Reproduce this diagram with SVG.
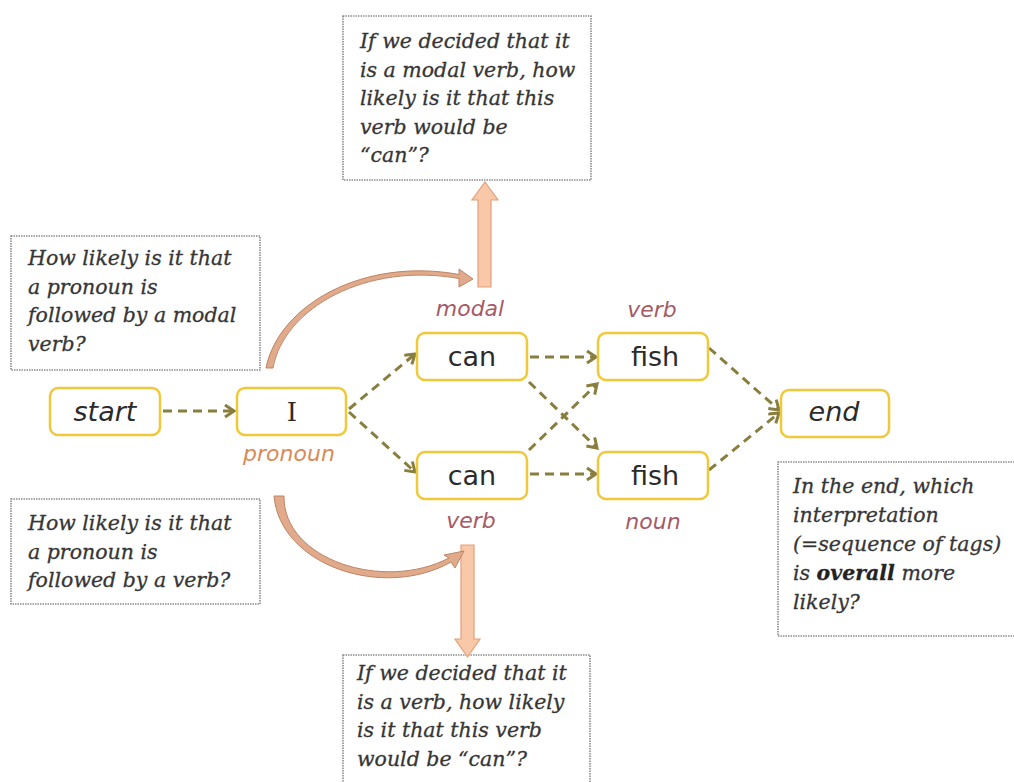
<svg xmlns="http://www.w3.org/2000/svg" width="1014" height="782" viewBox="0 0 1014 782">
  <style>
    .node rect { fill: #ffffff; stroke: #f0c93a; stroke-width: 2.5; }
    .word { font-family: "DejaVu Sans", Verdana, sans-serif; font-size: 27px; fill: #2b2b2b; text-anchor: middle; }
    .ital { font-style: italic; }
    .tag { font-family: "DejaVu Sans", Verdana, sans-serif; font-size: 22px; font-style: italic; text-anchor: middle; }
    .tag-r { fill: #a65a66; }
    .tag-o { fill: #d98a58; }
    .note rect { fill: #ffffff; stroke: #8c8c8c; stroke-width: 1.6; stroke-dasharray: 1.5 1; }
    .note text { font-family: "DejaVu Serif", Cambria, serif; font-style: italic; font-size: 20.5px; fill: #363636; stroke: #363636; stroke-width: 0.3; }
    .edge { fill: none; stroke: #8a7e3e; stroke-width: 3; stroke-dasharray: 9 6; }
    .block { fill: #f8c8a8; stroke: #e2a07c; stroke-width: 1.2; }
    .curve { fill: #e0aa8b; stroke: #bd8566; stroke-width: 1; }
  </style>
  <defs>
    <marker id="chev" markerUnits="userSpaceOnUse" markerWidth="14" markerHeight="16" refX="11" refY="7" orient="auto">
      <path d="M2,1 L11,7 L2,13" fill="none" stroke="#8a7e3e" stroke-width="3" stroke-dasharray="none"/>
    </marker>
  </defs>

  <!-- question boxes -->
  <g id="note-modal-emission" class="note">
    <rect x="343" y="16" width="248" height="164"/>
    <text x="360" y="48">If we decided that it</text>
    <text x="360" y="76.5">is a modal verb, how</text>
    <text x="360" y="105">likely is it that this</text>
    <text x="360" y="133.5">verb would be</text>
    <text x="360" y="162">“can”?</text>
  </g>
  <g id="note-modal-transition" class="note">
    <rect x="11" y="236" width="249" height="134"/>
    <text x="28" y="265">How likely is it that</text>
    <text x="28" y="293.5">a pronoun is</text>
    <text x="28" y="322">followed by a modal</text>
    <text x="28" y="350.5">verb?</text>
  </g>
  <g id="note-verb-transition" class="note">
    <rect x="11" y="499" width="249" height="105"/>
    <text x="28" y="530">How likely is it that</text>
    <text x="28" y="558.5">a pronoun is</text>
    <text x="28" y="587">followed by a verb?</text>
  </g>
  <g id="note-verb-emission" class="note">
    <rect x="343" y="655" width="247" height="140"/>
    <text x="357" y="680">If we decided that it</text>
    <text x="357" y="708.5">is a verb, how likely</text>
    <text x="357" y="737">is it that this verb</text>
    <text x="357" y="765.5">would be “can”?</text>
  </g>
  <g id="note-overall" class="note">
    <rect x="778" y="462" width="250" height="174"/>
    <text x="793" y="493">In the end, which</text>
    <text x="793" y="522">interpretation</text>
    <text x="793" y="551">(=sequence of tags)</text>
    <text x="793" y="580">is <tspan font-weight="bold" fill="#222">overall</tspan> more</text>
    <text x="793" y="609">likely?</text>
  </g>

  <!-- pointers from the questions to the lattice -->
  <g id="pointers">
    <path class="block" d="M478,287 L478,200 L472,200 L485,182 L498,200 L491,200 L491,287 Z"/>
    <path class="block" d="M461,545 L474,545 L474,639 L480,639 L467.5,657 L455,639 L461,639 Z"/>
    <path class="curve" d="M266,368 C279,304 365,257 459,274.5 L459,269 L473,279 L459,287 L459,278.5 C366,262 284,308 273,368 Z"/>
    <path class="curve" d="M274,496 C280,566 384,600 451,562 L455,568 L464,551 L444,555 L449,558 C384,592 283,560 284,496 Z"/>
  </g>

  <!-- transitions -->
  <g id="connectors">
    <path class="edge" d="M163,411 L234,411" marker-end="url(#chev)"/>
    <path class="edge" d="M349,409 L415,354" marker-end="url(#chev)"/>
    <path class="edge" d="M349,412 L415,472" marker-end="url(#chev)"/>
    <path class="edge" d="M530,357 L596,357" marker-end="url(#chev)"/>
    <path class="edge" d="M530,474 L596,474" marker-end="url(#chev)"/>
    <path class="edge" d="M529,382 L597,448" marker-end="url(#chev)"/>
    <path class="edge" d="M529,450 L597,384" marker-end="url(#chev)"/>
    <path class="edge" d="M709,348 L779,410" marker-end="url(#chev)"/>
    <path class="edge" d="M709,470 L779,413" marker-end="url(#chev)"/>
  </g>

  <!-- lattice nodes -->
  <g id="node-start" class="node">
    <rect x="50" y="388" width="110" height="47" rx="8"/>
    <text class="word ital" x="105" y="421">start</text>
  </g>
  <g id="node-I" class="node">
    <rect x="237" y="388" width="109" height="47" rx="8"/>
    <text x="292" y="421" font-family="'DejaVu Serif', Cambria, serif" font-size="26" fill="#2b2b2b" text-anchor="middle">I</text>
    <text class="tag tag-o" x="289" y="461">pronoun</text>
  </g>
  <g id="node-can-modal" class="node">
    <rect x="417" y="333" width="110" height="47" rx="8"/>
    <text class="word" x="472" y="366">can</text>
    <text class="tag tag-r" x="470" y="316">modal</text>
  </g>
  <g id="node-fish-verb" class="node">
    <rect x="598" y="333" width="110" height="47" rx="8"/>
    <text class="word" x="655" y="366">fish</text>
    <text class="tag tag-r" x="652" y="317">verb</text>
  </g>
  <g id="node-can-verb" class="node">
    <rect x="417" y="452" width="110" height="47" rx="8"/>
    <text class="word" x="472" y="485">can</text>
    <text class="tag tag-r" x="471" y="528">verb</text>
  </g>
  <g id="node-fish-noun" class="node">
    <rect x="598" y="452" width="110" height="47" rx="8"/>
    <text class="word" x="655" y="485">fish</text>
    <text class="tag tag-r" x="653" y="529">noun</text>
  </g>
  <g id="node-end" class="node">
    <rect x="781" y="390" width="108" height="47" rx="8"/>
    <text class="word ital" x="834" y="421">end</text>
  </g>
</svg>
